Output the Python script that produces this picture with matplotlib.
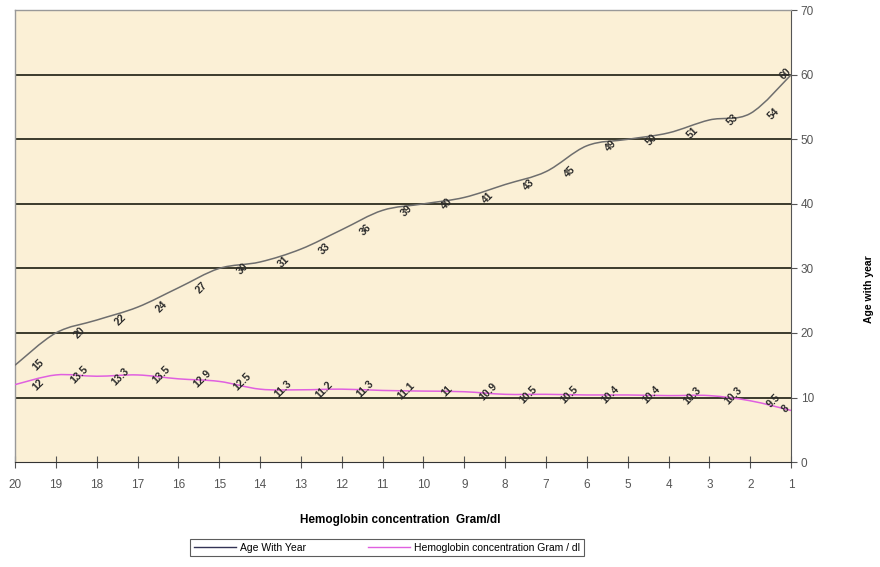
import matplotlib.pyplot as plt
import numpy as np
from matplotlib.path import Path
from matplotlib.patches import PathPatch
from matplotlib.lines import Line2D

plt.rcParams['font.family'] = ['Liberation Sans Narrow', 'Liberation Sans', 'DejaVu Sans']

categories = ['20', '19', '18', '17', '16', '15', '14', '13', '12', '11',
              '10', '9', '8', '7', '6', '5', '4', '3', '2', '1']
age = [15, 20, 22, 24, 27, 30, 31, 33, 36, 39,
       40, 41, 43, 45, 49, 50, 51, 53, 54, 60]
hb = [12, 13.5, 13.3, 13.5, 12.9, 12.5, 11.3, 11.2, 11.3, 11.1,
      11, 10.9, 10.5, 10.5, 10.4, 10.4, 10.3, 10.3, 9.5, 8]

AGE_COLOR = '#6e6e6e'
HB_COLOR = '#e060e0'


def smooth_path(xs, ys):
    # Excel-like smoothed line: Catmull-Rom segments as cubic Beziers
    p = np.column_stack([xs, ys]).astype(float)
    n = len(p)
    verts = [p[0]]
    codes = [Path.MOVETO]
    for i in range(n - 1):
        p0 = p[i - 1] if i > 0 else p[i]
        p3 = p[i + 2] if i + 2 < n else p[i + 1]
        c1 = p[i] + (p[i + 1] - p0) / 6
        c2 = p[i + 1] - (p3 - p[i]) / 6
        verts += [c1, c2, p[i + 1]]
        codes += [Path.CURVE4] * 3
    return Path(verts, codes)


def label_points(ax, xs, vals):
    for i, (xi, v) in enumerate(zip(xs, vals)):
        # the last label sits on the right edge, pull it back inside
        off = (17, 0) if i < len(vals) - 1 else (-4, 1)
        ax.annotate(f'{v:g}', (xi, v), xytext=off, textcoords='offset points',
                    rotation=45, ha='center', va='center', fontsize=7.5,
                    fontweight='bold', color='#2a2a2a', annotation_clip=False, zorder=4)


fig = plt.figure(figsize=(8.8, 5.67), dpi=100)
ax = fig.add_axes([0.017, 0.185, 0.882, 0.797])
ax.set_facecolor('#fbf0d6')

x = np.arange(len(categories))
ax.add_patch(PathPatch(smooth_path(x, age), fill=False, edgecolor=AGE_COLOR, lw=1.1, zorder=3))
ax.add_patch(PathPatch(smooth_path(x, hb), fill=False, edgecolor=HB_COLOR, lw=1.1, zorder=3))

label_points(ax, x, age)
label_points(ax, x, hb)

ax.set_xlim(0, len(categories) - 1)
ax.set_ylim(0, 70)
ax.set_xticks(x)
ax.set_xticklabels(categories)
ax.set_yticks(range(0, 71, 10))

for yv in range(10, 70, 10):
    ax.axhline(yv, color='#3b3b2c', lw=1.4, zorder=1)

ax.yaxis.tick_right()
ax.tick_params(axis='y', direction='out', length=4, labelsize=8.5, pad=3)
ax.tick_params(axis='x', direction='inout', length=8, labelsize=8.5, pad=8)
ax.tick_params(axis='both', color='#555555', labelcolor='#555555')

for side in ['top', 'left']:
    ax.spines[side].set_color('#999999')
    ax.spines[side].set_linewidth(1)
ax.spines['bottom'].set_color('#333333')
ax.spines['right'].set_color('#555555')

fig.text(0.455, 0.083, 'Hemoglobin concentration  Gram/dl', ha='center', va='center',
         fontsize=8.5, fontweight='bold')
fig.text(0.988, 0.49, 'Age with year', rotation=90, ha='center', va='center',
         fontsize=7.5, fontweight='bold')

handles = [Line2D([], [], color='#333355', lw=1),
           Line2D([], [], color=HB_COLOR, lw=1)]
leg = fig.legend(handles, ['Age With Year', 'Hemoglobin concentration Gram / dl'],
                 loc='center', bbox_to_anchor=(0.44, 0.034), ncol=2, fontsize=7.5,
                 frameon=True, fancybox=False, edgecolor='#333333', handlelength=4,
                 borderpad=0.35, columnspacing=6, borderaxespad=0, handletextpad=0.4)
leg.get_frame().set_linewidth(0.8)

fig.savefig('out.png', dpi=100)
